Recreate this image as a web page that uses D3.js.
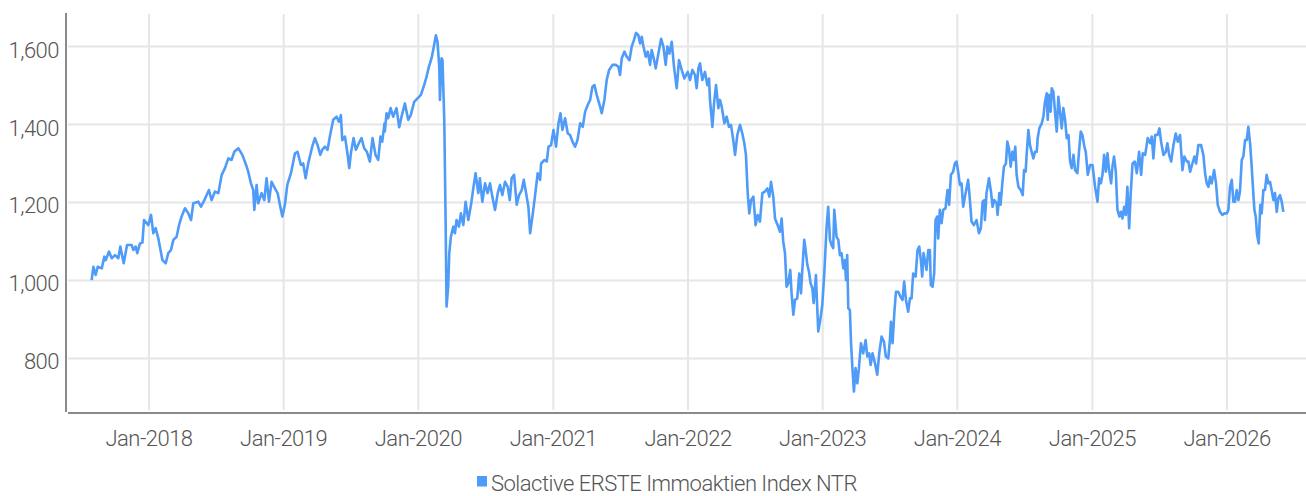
<!DOCTYPE html>
<html>
<head>
<meta charset="utf-8">
<script src="https://cdn.jsdelivr.net/npm/d3@7"></script>
<style>
  html, body { margin: 0; padding: 0; background: #fff; }
  svg { display: block; }
  text { font-family: Roboto, "Noto Sans", sans-serif; font-weight: 300; fill: #555; }
</style>
</head>
<body>
<svg id="chart" width="1306" height="496"></svg>
<script>
// Series name
const seriesName = "Solactive ERSTE Immoaktien Index NTR";

const dates = [
2017.574,2017.587,2017.604,2017.619,2017.649,2017.668,2017.678,2017.703,2017.723,2017.748,
2017.772,2017.787,2017.812,2017.837,2017.871,2017.884,2017.901,2017.913,2017.933,2017.951,
2017.963,2017.983,2017.995,2018.015,2018.032,2018.049,2018.069,2018.099,2018.124,2018.143,
2018.163,2018.181,2018.205,2018.223,2018.242,2018.267,2018.292,2018.312,2018.329,2018.366,
2018.386,2018.411,2018.445,2018.465,2018.490,2018.515,2018.539,2018.564,2018.589,2018.613,
2018.633,
2018.663,2018.693,2018.717,2018.737,2018.757,2018.774,2018.782,2018.799,2018.811,2018.836,
2018.856,2018.873,2018.891,2018.910,2018.935,2018.955,2018.972,2018.990,2019.009,2019.027,
2019.054,2019.084,2019.103,2019.128,2019.145,2019.163,2019.182,2019.212,2019.232,2019.252,
2019.272,2019.286,2019.306,2019.326,2019.343,2019.368,2019.393,2019.410,2019.425,2019.435,
2019.455,2019.472,2019.487,2019.499,2019.519,2019.536,2019.558,2019.578,2019.598,2019.618,
2019.640,2019.660,2019.682,2019.702,2019.719,2019.732,2019.749,
2019.751,2019.764,2019.776,2019.794,2019.813,2019.838,2019.858,2019.875,2019.900,2019.925,
2019.944,2019.969,2019.994,2020.019,2020.043,2020.061,2020.078,2020.098,2020.115,2020.130,
2020.142,2020.155,2020.160,2020.172,2020.179,2020.192,2020.202,2020.209,2020.221,2020.229,
2020.241,2020.259,2020.271,2020.283,2020.301,2020.315,2020.333,2020.350,2020.370,2020.390,
2020.407,2020.424,2020.444,2020.456,2020.474,2020.494,2020.513,2020.531,2020.548,2020.568,
2020.588,2020.605,2020.622,2020.642,2020.662,2020.677,2020.691,2020.709,2020.729,2020.746,
2020.766,2020.781,2020.798,2020.815,2020.828,2020.845,2020.862,
2020.884,2020.902,2020.909,2020.934,2020.951,2020.964,2020.983,2021.001,2021.020,2021.038,
2021.053,2021.067,2021.087,2021.107,2021.124,2021.142,2021.161,2021.179,2021.199,2021.218,
2021.236,2021.255,2021.273,2021.290,2021.305,2021.322,2021.347,2021.359,2021.379,2021.396,
2021.414,2021.439,2021.463,2021.483,2021.495,2021.508,2021.528,2021.545,2021.565,2021.582,
2021.599,2021.614,2021.631,2021.644,2021.656,2021.669,2021.686,2021.701,2021.718,2021.730,
2021.748,2021.760,2021.780,2021.800,2021.817,2021.834,2021.847,2021.862,2021.879,2021.896,
2021.916,2021.933,2021.953,2021.973,
2021.998,2022.015,2022.032,2022.052,2022.064,2022.077,2022.089,2022.106,2022.126,2022.143,
2022.156,2022.163,2022.181,2022.193,2022.208,2022.225,2022.237,2022.250,2022.270,2022.287,
2022.304,2022.319,2022.336,2022.349,2022.366,2022.386,2022.403,2022.418,2022.430,2022.443,
2022.455,2022.468,2022.485,2022.502,2022.517,2022.534,2022.552,2022.571,2022.589,2022.604,
2022.616,2022.633,2022.646,2022.665,2022.683,2022.695,2022.707,2022.720,2022.732,2022.745,
2022.759,2022.769,2022.782,2022.794,2022.811,2022.826,2022.839,2022.848,2022.863,2022.873,
2022.886,2022.898,2022.910,2022.923,2022.933,2022.950,2022.957,2022.967,2022.982,2022.997,
2023.012,2023.029,2023.041,2023.054,2023.066,2023.078,2023.086,
2023.103,2023.116,2023.128,2023.140,2023.153,2023.165,2023.173,2023.182,2023.190,2023.202,
2023.210,2023.220,2023.232,2023.244,2023.257,2023.269,2023.284,2023.301,2023.319,2023.331,
2023.346,2023.356,2023.370,2023.388,2023.405,2023.420,2023.437,2023.455,2023.469,2023.487,
2023.499,2023.507,2023.519,2023.531,2023.544,2023.561,2023.578,2023.593,2023.605,2023.618,
2023.635,2023.648,2023.660,2023.672,2023.690,2023.704,2023.717,2023.729,2023.739,2023.749,
2023.759,2023.771,2023.784,2023.796,2023.803,2023.816,2023.828,2023.838,2023.850,2023.858,
2023.870,2023.883,2023.895,2023.912,2023.927,2023.939,2023.952,2023.969,2023.981,2023.994,
2024.006,2024.019,2024.031,2024.043,2024.061,2024.080,2024.093,2024.105,2024.122,2024.142,
2024.160,2024.174,2024.187,2024.199,
2024.204,2024.216,2024.234,2024.249,2024.261,2024.273,2024.291,2024.298,2024.311,2024.320,
2024.333,2024.345,2024.360,2024.370,2024.382,2024.395,2024.407,2024.419,2024.429,2024.439,
2024.452,2024.469,2024.484,2024.494,2024.506,2024.513,2024.526,2024.538,2024.550,2024.563,
2024.575,2024.588,2024.595,2024.607,2024.625,2024.637,2024.649,2024.662,2024.669,2024.679,
2024.691,2024.699,2024.711,2024.724,2024.736,2024.748,2024.761,2024.773,2024.785,2024.798,
2024.810,2024.823,2024.835,2024.847,2024.860,2024.872,2024.889,2024.902,2024.914,2024.926,
2024.941,2024.951,2024.966,2024.983,2025.001,2025.020,2025.038,2025.050,2025.063,2025.075,
2025.087,2025.100,2025.112,2025.124,2025.139,2025.149,2025.161,2025.174,2025.186,2025.201,
2025.211,2025.223,2025.236,2025.248,2025.260,2025.273,2025.285,2025.298,2025.315,
2025.330,2025.347,2025.362,2025.374,2025.392,2025.411,2025.429,2025.441,2025.453,2025.466,
2025.483,2025.498,2025.510,2025.528,2025.545,2025.557,2025.570,2025.585,2025.602,2025.619,
2025.634,2025.651,2025.669,2025.683,2025.701,2025.713,2025.726,2025.743,2025.758,2025.770,
2025.787,2025.807,2025.824,2025.837,2025.849,2025.862,2025.874,2025.886,2025.904,2025.918,
2025.931,2025.948,2025.965,2025.980,2025.998,2026.010,2026.022,2026.035,2026.047,2026.059,
2026.072,2026.084,2026.096,2026.109,2026.121,2026.134,2026.146,2026.158,2026.171,2026.183,
2026.195,2026.203,2026.213,2026.223,2026.235,2026.247,2026.257,2026.270,2026.282,2026.294,
2026.307,2026.319,2026.331,2026.344,2026.356,2026.369,2026.381,2026.393,2026.406,2026.418
];

// Index levels
const values = [
1001,1035,1014,1035,1031,1061,1052,1074,1057,1065,
1057,1087,1044,1091,1091,1078,1087,1070,1095,1097,
1155,1147,1142,1168,1121,1134,1108,1053,1044,1070,
1078,1104,1112,1142,1164,1185,1172,1155,1198,1202,
1189,1206,1232,1206,1228,1224,1270,1288,1313,1309,
1330,
1339,1322,1300,1279,1249,1232,1181,1245,1198,1224,
1206,1262,1202,1253,1236,1224,1194,1164,1194,1245,
1275,1326,1330,1296,1300,1262,1300,1343,1365,1347,
1322,1335,1343,1335,1369,1412,1420,1407,1424,1360,
1369,1330,1288,1326,1365,1335,1352,1365,1339,1330,
1305,1365,1322,1309,1369,1356,1403,
1382,1429,1416,1442,1420,1442,1393,1420,1454,1412,
1424,1458,1467,1476,1501,1523,1548,1570,1600,1629,
1612,1548,1463,1570,1565,1412,1155,933,984,1070,
1112,1138,1121,1155,1138,1172,1142,1202,1155,1194,
1236,1275,1224,1262,1202,1249,1224,1249,1215,1181,
1224,1245,1219,1253,1240,1206,1262,1271,1194,1219,
1232,1258,1224,1189,1121,1164,1211,
1275,1258,1300,1309,1305,1343,1347,1386,1343,1403,
1429,1386,1416,1377,1373,1356,1343,1360,1403,1394,
1433,1450,1463,1497,1501,1476,1446,1429,1463,1514,
1540,1553,1553,1548,1527,1570,1587,1574,1565,1600,
1617,1635,1629,1608,1625,1600,1574,1587,1553,1591,
1565,1544,1582,1620,1600,1553,1600,1582,1612,1548,
1493,1565,1540,1518,
1535,1514,1540,1527,1493,1544,1557,1514,1535,1501,
1518,1463,1394,1454,1501,1442,1463,1446,1403,1420,
1394,1399,1360,1322,1373,1399,1377,1352,1322,1224,
1172,1206,1215,1142,1168,1151,1224,1228,1236,1215,
1253,1215,1159,1142,1125,1159,1100,1070,984,993,
1027,967,912,950,954,1018,967,1023,1104,1078,
1040,1023,993,980,942,1014,950,869,899,937,
1018,1138,1189,1104,1091,1083,1181,
1112,1104,1065,1070,1031,1052,1001,1065,929,924,
843,779,715,775,736,775,839,813,847,805,
813,783,813,788,758,813,856,843,805,800,
847,894,839,912,971,971,958,950,997,950,
920,954,954,1018,1010,1078,1087,1052,1010,1070,
1052,1027,1078,1078,988,984,1018,1155,1164,1108,
1181,1147,1181,1185,1232,1194,1271,1279,1300,1305,
1279,1245,1249,1189,1224,1258,1206,1151,1142,1155,
1121,1134,1202,1206,
1155,1224,1262,1228,1189,1206,1198,1168,1224,1194,
1249,1292,1300,1356,1339,1292,1330,1309,1343,1271,
1240,1232,1219,1283,1279,1322,1386,1347,1330,1313,
1330,1330,1365,1390,1403,1420,1458,1480,1412,1476,
1433,1493,1484,1429,1382,1471,1429,1390,1442,1412,
1365,1373,1305,1288,1322,1283,1275,1335,1382,1373,
1343,1330,1271,1296,1296,1240,1202,1262,1249,1271,
1322,1279,1326,1283,1249,1292,1318,1279,1181,1164,
1176,1159,1189,1168,1240,1134,1224,1300,1305,
1275,1330,1271,1326,1322,1365,1352,1369,1313,1373,
1373,1390,1356,1322,1330,1352,1322,1305,1347,1377,
1356,1373,1283,1318,1305,1305,1279,1300,1318,1300,
1347,1347,1322,1275,1249,1240,1266,1249,1283,1249,
1194,1176,1168,1172,1172,1181,1240,1258,1202,1202,
1232,1206,1228,1309,1318,1360,1360,1394,1352,1292,
1224,1181,1164,1117,1095,1194,1172,1232,1232,1271,
1249,1253,1232,1206,1224,1176,1211,1219,1202,1176
];

// Axis ticks
const yTickValues = [800, 1000, 1200, 1400, 1600];
const xTickYears = [2018, 2019, 2020, 2021, 2022, 2023, 2024, 2025, 2026];

const lineColor = "#4e9bf8";

function decYearToDate(t) {
  const y = Math.floor(t);
  const a = Date.UTC(y, 0, 1), b = Date.UTC(y + 1, 0, 1);
  return new Date(a + (t - y) * (b - a));
}

const data = dates.map((t, i) => ({ date: decYearToDate(t), value: values[i] }));

const svg = d3.select("#chart");

const plot = { left: 66, right: 1306, top: 13, bottom: 413 };

const x = d3.scaleUtc()
  .domain([new Date(Date.UTC(2017, 4, 21)), new Date(Date.UTC(2026, 7, 3))])
  .range([plot.left, plot.right]);

const y = d3.scaleLinear()
  .domain([660, 1686])
  .range([plot.bottom, plot.top]);

// horizontal gridlines
svg.append("g").selectAll("line").data(yTickValues).join("line")
  .attr("x1", plot.left + 2).attr("x2", plot.right)
  .attr("y1", d => y(d)).attr("y2", d => y(d))
  .attr("stroke", "#e6e6e6").attr("stroke-width", 2);

// vertical gridlines
const xTickDates = xTickYears.map(yr => new Date(Date.UTC(yr, 0, 1)));
svg.append("g").selectAll("line").data(xTickDates).join("line")
  .attr("x1", d => x(d)).attr("x2", d => x(d))
  .attr("y1", plot.top + 1).attr("y2", plot.bottom - 3)
  .attr("stroke", "#e6e6e6").attr("stroke-width", 2);

// axis lines
svg.append("line")
  .attr("x1", plot.left).attr("x2", plot.left)
  .attr("y1", plot.top).attr("y2", plot.bottom - 1)
  .attr("stroke", "#8a8a8a").attr("stroke-width", 2);
svg.append("line")
  .attr("x1", plot.left + 2).attr("x2", plot.right)
  .attr("y1", plot.bottom).attr("y2", plot.bottom)
  .attr("stroke", "#8a8a8a").attr("stroke-width", 2);

// y labels
const fmtY = d3.format(",");
svg.append("g").selectAll("text").data(yTickValues).join("text")
  .attr("x", 59).attr("y", d => y(d) + 11)
  .attr("text-anchor", "end")
  .style("font-size", "22px").style("letter-spacing", "-0.5px")
  .text(d => fmtY(d));

// x labels
const fmtX = d3.utcFormat("%b-%Y");
svg.append("g").selectAll("text").data(xTickDates).join("text")
  .attr("x", d => x(d)).attr("y", 446)
  .attr("text-anchor", "middle")
  .style("font-size", "22px").style("letter-spacing", "-0.5px")
  .text(d => fmtX(d));

// line
const line = d3.line().x(d => x(d.date)).y(d => y(d.value));
svg.append("path").datum(data)
  .attr("d", line)
  .attr("fill", "none")
  .attr("stroke", lineColor)
  .attr("stroke-width", 2.6)
  .attr("stroke-linejoin", "round");

// legend
const legend = svg.append("g");
legend.append("rect")
  .attr("x", 477).attr("y", 476).attr("width", 10).attr("height", 10.5)
  .attr("fill", lineColor);
legend.append("text")
  .attr("x", 491).attr("y", 491)
  .style("font-size", "22px").style("letter-spacing", "-0.5px")
  .text(seriesName);
</script>
</body>
</html>
